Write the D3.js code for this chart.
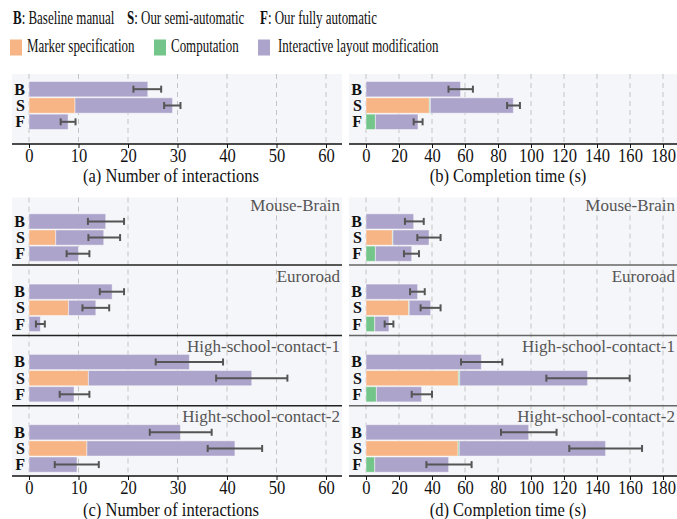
<!DOCTYPE html>
<html>
<head>
<meta charset="utf-8">
<script src="https://cdn.jsdelivr.net/npm/d3@7"></script>
<style>
  body { margin: 0; background: #fff; }
  svg text { font-family: "Liberation Serif", "Tinos", "DejaVu Serif", serif !important; }
</style>
</head>
<body>
<svg id="chart" width="677" height="519"></svg>
<script>
const methods = ["B", "S", "F"];
const datasets = ["Mouse-Brain", "Euroroad", "High-school-contact-1", "Hight-school-contact-2"];
const countTicks = [0, 10, 20, 30, 40, 50, 60];
const timeTicks = [0, 20, 40, 60, 80, 100, 120, 140, 160, 180];
const legendKeys = ["Marker specification", "Computation", "Interactive layout modification"];
const colors = ["#f7b586", "#74c58a", "#aca4cb"];

// (a) number of interactions, all datasets
const allCountMarker = [0, 9.3, 0];
const allCountComp = [0, 0, 0];
const allCountLayout = [24.0, 19.7, 7.9];
const allCountErr = [[21.1, 26.7], [27.3, 30.6], [6.4, 9.4]];

// (b) completion time, all datasets
const allTimeMarker = [0, 38.4, 0];
const allTimeComp = [0, 0.6, 5.7];
const allTimeLayout = [57.3, 50.3, 25.8];
const allTimeErr = [[50.0, 64.8], [85.5, 93.3], [28.9, 34.3]];

// (c) number of interactions per dataset
const countMarker = [[0, 5.4, 0], [0, 8.0, 0], [0, 12.0, 0], [0, 11.7, 0]];
const countComp = [[0, 0, 0], [0, 0, 0], [0, 0, 0], [0, 0, 0]];
const countLayout = [[15.5, 9.7, 10.0], [16.8, 5.5, 2.3], [32.4, 33.0, 9.1], [30.6, 29.9, 9.7]];
const countErr = [
  [[11.9, 19.2], [12.0, 18.4], [7.6, 12.2]],
  [[14.3, 19.2], [10.8, 16.2], [1.4, 3.2]],
  [[25.6, 39.2], [37.8, 52.2], [6.2, 12.2]],
  [[24.4, 36.9], [36.1, 47.1], [5.2, 14.1]]
];

// (d) completion time per dataset
const timeMarker = [[0, 16.0, 0], [0, 25.9, 0], [0, 56.0, 0], [0, 55.8, 0]];
const timeComp = [[0, 0.3, 5.7], [0, 0.3, 5.3], [0, 0.8, 6.3], [0, 0.7, 5.3]];
const timeLayout = [[28.9, 21.9, 22.0], [31.3, 13.0, 8.6], [69.9, 77.5, 27.4], [98.6, 88.7, 44.8]];
const timeErr = [
  [[23.6, 35.0], [31.1, 45.2], [23.0, 32.1]],
  [[26.7, 35.6], [33.1, 45.2], [11.3, 16.6]],
  [[57.6, 82.6], [109.3, 159.8], [27.7, 40.0]],
  [[81.8, 115.5], [123.2, 167.3], [36.6, 64.0]]
];

const svg = d3.select("#chart");

// text squeezed horizontally, like the original figure
function squeezed(parent, x, y, str, size, sx, anchor) {
  return parent.append("text")
    .attr("transform", `translate(${x},${y}) scale(${sx},1)`)
    .attr("text-anchor", anchor || "start")
    .style("font-size", size + "px")
    .style("fill", "#111")
    .text(str);
}

// ---- legend ----
const leg1 = [["B", ": Baseline manual", 13], ["S", ": Our semi-automatic", 127], ["F", ": Our fully automatic", 260]];
leg1.forEach(([k, rest, x]) => {
  const t = squeezed(svg, x, 24, "", 18, 0.72);
  t.append("tspan").style("font-weight", "bold").text(k);
  t.append("tspan").text(rest);
});
const legX = [[10, 27], [154, 171], [258, 278]];
legendKeys.forEach((k, i) => {
  svg.append("rect").attr("x", legX[i][0]).attr("y", 39.5).attr("width", 12).attr("height", 16)
    .attr("fill", colors[i]);
  squeezed(svg, legX[i][1], 52, k, 18, 0.72);
});

// ---- panels ----
function drawPanel(opt) {
  const g = svg.append("g");
  const x = d3.scaleLinear().domain(opt.domain).range([opt.x0, opt.x1]);

  g.append("rect").attr("x", opt.left).attr("y", opt.bgTop)
    .attr("width", opt.right - opt.left).attr("height", opt.bottom - opt.bgTop)
    .attr("fill", "#f5f6f9");

  // dashed grid
  g.selectAll(".grid").data(opt.ticks).enter().append("line")
    .attr("x1", d => x(d)).attr("x2", d => x(d))
    .attr("y1", opt.bgTop).attr("y2", opt.bottom)
    .attr("stroke", "#c4c4c4").attr("stroke-width", 1).attr("stroke-dasharray", "5,4");

  opt.groups.forEach((grp, gi) => {
    const top = opt.tops[gi];
    const y = d3.scaleBand().domain(methods).range([top + opt.barTop, top + opt.barBottom]).paddingInner(0.06);

    if (gi > 0) {
      g.append("line").attr("x1", opt.left).attr("x2", opt.right)
        .attr("y1", top).attr("y2", top)
        .attr("stroke", opt.sepColor).attr("stroke-width", 1.5);
    }
    if (grp.name) {
      g.append("text").attr("x", opt.right - 2).attr("y", top + 16.5)
        .attr("text-anchor", "end").style("font-size", "17px").style("fill", "#555")
        .text(grp.name);
    }

    const rows = methods.map((m, i) => ({ method: m, marker: grp.marker[i], comp: grp.comp[i], layout: grp.layout[i] }));
    const stack = d3.stack().keys(["marker", "comp", "layout"])(rows);

    stack.forEach((layer, li) => {
      g.selectAll(null).data(layer.filter(d => d[1] - d[0] > 0)).enter().append("rect")
        .attr("x", d => x(d[0]))
        .attr("y", d => y(d.data.method))
        .attr("width", d => x(d[1]) - x(d[0]))
        .attr("height", y.bandwidth())
        .attr("fill", colors[li])
        .attr("stroke", "rgba(255,255,255,0.45)").attr("stroke-width", 1);
    });

    // error bars
    methods.forEach((m, i) => {
      const cy = y(m) + y.bandwidth() / 2;
      const [lo, hi] = grp.err[i];
      g.append("line").attr("x1", x(lo)).attr("x2", x(hi)).attr("y1", cy).attr("y2", cy)
        .attr("stroke", "#555").attr("stroke-width", 2);
      [lo, hi].forEach(v => {
        g.append("line").attr("x1", x(v)).attr("x2", x(v)).attr("y1", cy - 3.5).attr("y2", cy + 3.5)
          .attr("stroke", "#555").attr("stroke-width", 2);
      });
      g.append("text").attr("x", opt.x0 - 4).attr("y", cy + 5.5).attr("text-anchor", "end")
        .style("font-size", "16px").style("font-weight", "bold").style("fill", "#111").text(m);
    });
  });

  // axis
  g.append("line").attr("x1", opt.left).attr("x2", opt.right).attr("y1", opt.bottom).attr("y2", opt.bottom)
    .attr("stroke", "#111").attr("stroke-width", 1.5);
  const axis = g.append("g").attr("transform", `translate(0,${opt.bottom})`)
    .call(d3.axisBottom(x).tickValues(opt.ticks).tickSize(4).tickSizeOuter(0));
  axis.select(".domain").remove();
  axis.selectAll(".tick line").attr("stroke", "#111").attr("stroke-width", 1);
  axis.selectAll(".tick text")
    .attr("y", 17.8).attr("dy", null)
    .attr("transform", "scale(0.92,1)")
    .style("font-size", "18px").style("fill", "#111");

  squeezed(svg, opt.capX, opt.capY, opt.caption, 18, 0.92, "middle");
}

const left = { left: 12, right: 342, x0: 29, x1: 326, domain: [0, 60], ticks: countTicks, capX: 171, sepColor: "#222" };
const right = { left: 349, right: 677, x0: 366, x1: 663, domain: [0, 180], ticks: timeTicks, capX: 508, sepColor: "#666" };

const topRow = { bgTop: 74, bottom: 144, tops: [74], barTop: 7.5, barBottom: 55.5, capY: 181.5 };
const subH = 70.3;
const bottomTops = datasets.map((d, i) => 476 - (4 - i) * subH);
const bottomRow = { bgTop: 197.5, bottom: 476, tops: bottomTops, barTop: 19, barBottom: 66.5, capY: 516 };

drawPanel(Object.assign({}, left, topRow, {
  caption: "(a) Number of interactions",
  groups: [{ marker: allCountMarker, comp: allCountComp, layout: allCountLayout, err: allCountErr }]
}));
drawPanel(Object.assign({}, right, topRow, {
  caption: "(b) Completion time (s)",
  groups: [{ marker: allTimeMarker, comp: allTimeComp, layout: allTimeLayout, err: allTimeErr }]
}));
drawPanel(Object.assign({}, left, bottomRow, {
  caption: "(c) Number of interactions",
  groups: datasets.map((name, i) => ({ name, marker: countMarker[i], comp: countComp[i], layout: countLayout[i], err: countErr[i] }))
}));
drawPanel(Object.assign({}, right, bottomRow, {
  caption: "(d) Completion time (s)",
  groups: datasets.map((name, i) => ({ name, marker: timeMarker[i], comp: timeComp[i], layout: timeLayout[i], err: timeErr[i] }))
}));
</script>
</body>
</html>
